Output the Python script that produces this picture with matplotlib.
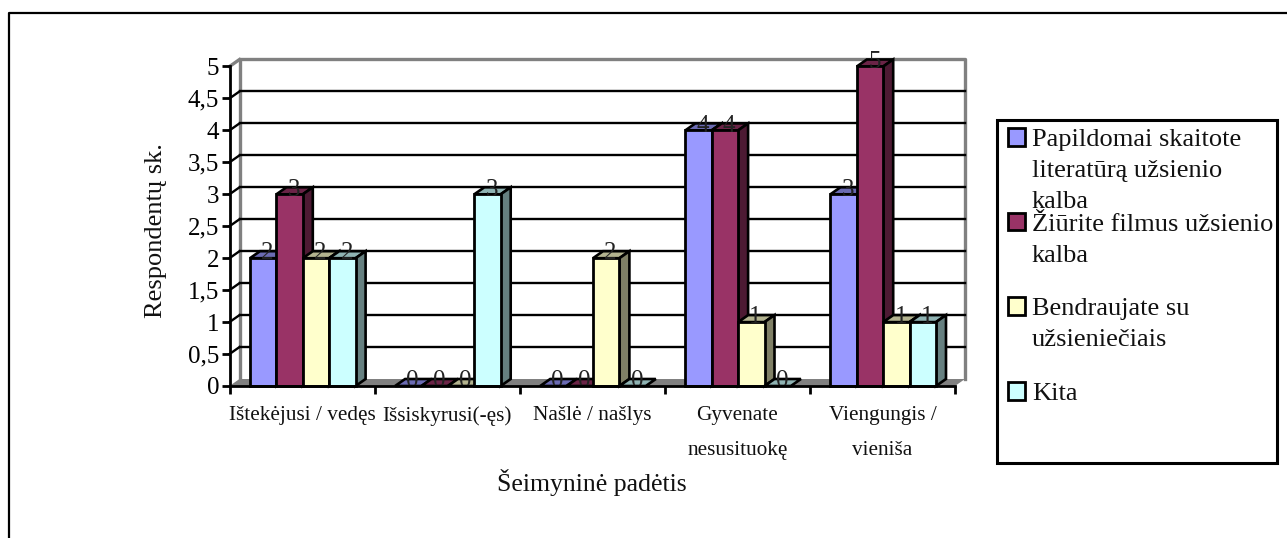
import numpy as np
import matplotlib
matplotlib.use('Agg')
import matplotlib.pyplot as plt
from matplotlib.patches import Polygon, Rectangle
from matplotlib.lines import Line2D

plt.rcParams['font.family'] = ['Liberation Serif', 'DejaVu Serif']

# --- duomenys ---
categories = ['Ištekėjusi / vedęs', 'Išsiskyrusi(-ęs)', 'Našlė / našlys',
              'Gyvenate\nnesusituokę', 'Viengungis /\nvieniša']
literatura = [2, 0, 0, 4, 3]
filmai = [3, 0, 0, 4, 5]
bendraujate = [2, 0, 2, 1, 1]
kita = [2, 3, 0, 0, 1]
series = [literatura, filmai, bendraujate, kita]
legend_labels = ['Papildomai skaitote\nliteratūrą užsienio\nkalba',
                 'Žiūrite filmus užsienio\nkalba',
                 'Bendraujate su\nužsieniečiais',
                 'Kita']
y_ticks = [0, 0.5, 1, 1.5, 2, 2.5, 3, 3.5, 4, 4.5, 5]
y_tick_labels = ['0', '0,5', '1', '1,5', '2', '2,5', '3', '3,5', '4', '4,5', '5']

front = ['#9999FF', '#993366', '#FFFFCC', '#CCFFFF']
top = ['#6B6BB3', '#6B2447', '#B3B38F', '#8FB3B3']
side = ['#4D4D80', '#4D1A33', '#808066', '#668080']

W, H = 1287, 538
fig = plt.figure(figsize=(W / 100, H / 100), dpi=100)

# pikseliu transformacija (y nuo virsaus)
px = matplotlib.transforms.Affine2D().scale(1, -1).translate(0, H)

# --- isorinis remelis (desinio krasto nera) ---
fig.add_artist(Line2D([9, 9, W], [H, 13, 13], transform=px, color='black', lw=1.6))

# asys: x kategorijos, y reiksmes
ax_l, ax_r, ax_b, ax_t = 229.5, 955, 386, 66.5
ax = fig.add_axes([ax_l / W, 1 - ax_b / H, (ax_r - ax_l) / W, (ax_b - ax_t) / H])
ax.set_xlim(0, 5)
ax.set_ylim(0, 5)
ax.patch.set_alpha(0)
for s in ax.spines.values():
    s.set_visible(False)
for k in ['left', 'bottom']:
    ax.spines[k].set_visible(True)
    ax.spines[k].set_linewidth(2)
    ax.spines[k].set_zorder(6)

dx = 10 / ((ax_r - ax_l) / 5)
dy = 7 / ((ax_b - ax_t) / 5)


def poly(pts, fc, ec='none', lw=0, z=2):
    p = Polygon(pts, closed=True, facecolor=fc, edgecolor=ec, linewidth=lw, zorder=z,
                clip_on=False, joinstyle='miter')
    ax.add_patch(p)


# siena ir grindys
poly([(0, 0), (dx, dy), (5 + dx, dy), (5, 0)], '#808080', z=1)
ax.plot([dx, dx, 5 + dx, 5 + dx], [dy, 5 + dy, 5 + dy, dy], color='#808080', lw=2.4,
        clip_on=False, zorder=1)
ax.plot([0, dx], [5, 5 + dy], color='#808080', lw=2.4, clip_on=False, zorder=1)
for v in y_ticks[1:-1]:
    ax.plot([dx, 5 + dx], [v + dy, v + dy], color='black', lw=1.7, clip_on=False, zorder=1.5)
    ax.plot([0, dx], [v, v + dy], color='black', lw=1.7, clip_on=False, zorder=1.5)

# stulpeliai
bar_w = 26.4 / ((ax_r - ax_l) / 5)
offset = 20.5 / ((ax_r - ax_l) / 5)
z = 3
for c in range(len(categories)):
    for i, vals in enumerate(series):
        x0 = c + offset + i * bar_w
        v = vals[c]
        z += 0.01
        poly([(x0, v), (x0 + dx, v + dy), (x0 + bar_w + dx, v + dy), (x0 + bar_w, v)],
             top[i], 'black', 1.9, z)
        if v > 0:
            poly([(x0 + bar_w, 0), (x0 + bar_w + dx, dy), (x0 + bar_w + dx, v + dy), (x0 + bar_w, v)],
                 side[i], 'black', 1.9, z)
            ax.bar(x0, v, bar_w, align='edge', color=front[i], edgecolor='black', linewidth=2,
                   zorder=z, clip_on=False)
        ax.text(x0 + bar_w / 2 + dx / 2 - 0.005, v - 0.02, str(v), ha='center', va='baseline', fontsize=18,
                color='#222222', zorder=5, clip_on=False)

# asiu zymes
ax.set_yticks(y_ticks)
ax.set_yticklabels(y_tick_labels, fontsize=18)
ax.set_xticks(range(6))
ax.set_xticklabels([])
ax.tick_params(axis='y', length=5.5, width=2, pad=2)
ax.tick_params(axis='x', length=5.5, width=2)
for c, name in enumerate(categories):
    ax.text(c + 0.5, -0.31, name, ha='center', va='top', fontsize=15.3, linespacing=2.15,
            color='#111111')
fig.text(156 / W, 1 - 231 / H, 'Respondentų sk.', rotation=90, ha='center', va='center', fontsize=19,
         color='#111111')
fig.text(592 / W, 1 - 482 / H, 'Šeimyninė padėtis', ha='center', va='center', fontsize=18.5,
         color='#111111')

# legenda
fig.add_artist(Rectangle((997, 120), 280, 343, transform=px, facecolor='white', edgecolor='black', lw=2.2))
for i, lab in enumerate(legend_labels):
    y0 = 128 + i * 84.7
    fig.add_artist(Rectangle((1007.5, y0), 17.5, 17.5, transform=px, facecolor=front[i],
                             edgecolor='black', lw=2))
    fig.text(1032 / W, 1 - (y0 + 1) / H, lab, ha='left', va='top', fontsize=19, linespacing=1.53,
             color='#111111')

fig.savefig('out.png', dpi=100)
